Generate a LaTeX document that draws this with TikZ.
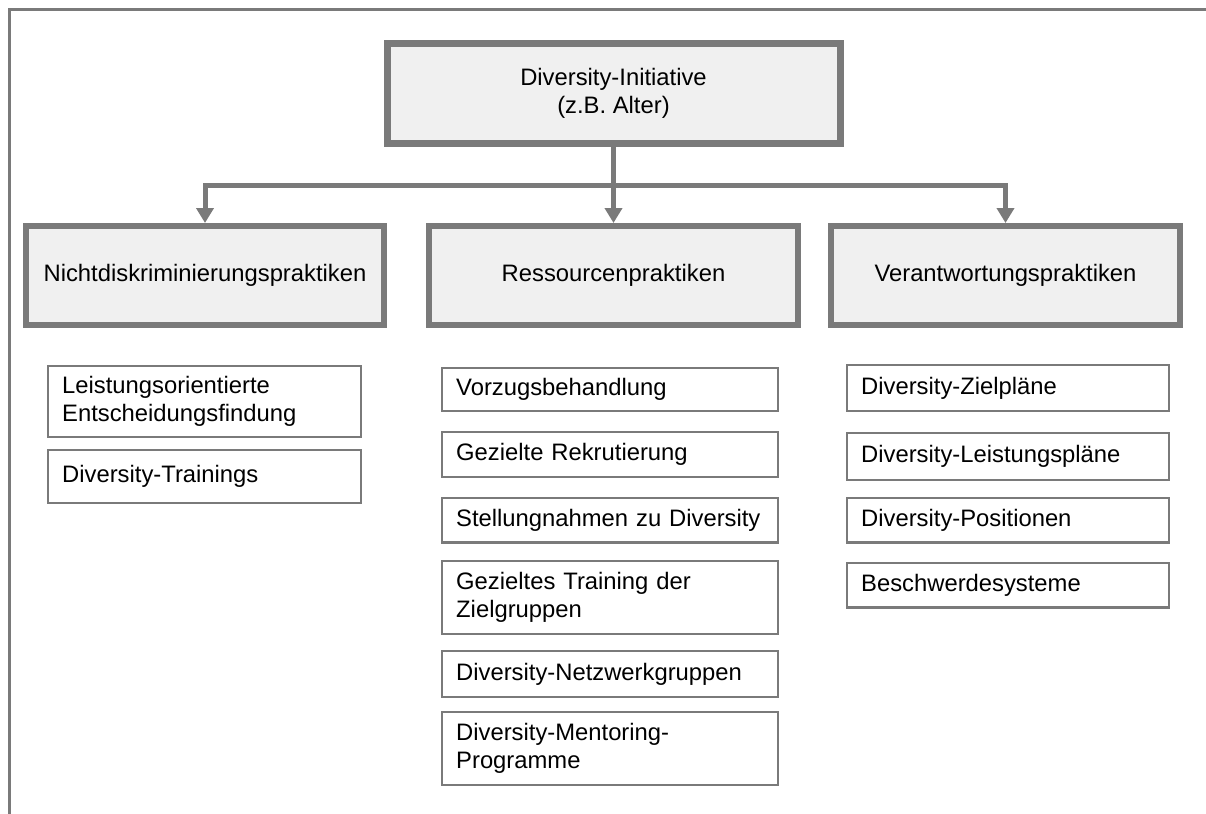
\documentclass[tikz,border=0pt]{standalone}
\usepackage{fontspec}
\setmainfont{Liberation Sans}
\usetikzlibrary{arrows.meta}
\definecolor{rahmen}{RGB}{122,122,122}
\definecolor{fuell}{RGB}{240,240,240}

\begin{document}
\begin{tikzpicture}[>={Triangle[length=7.5pt,width=8.5pt]},x=0.5pt,y=-0.5pt,
		font=\fontsize{11.9}{14}\selectfont,
		haupt/.style={draw=rahmen,fill=fuell,line width=3pt,minimum height=49.5pt,align=center},
		praxis/.style={draw=rahmen,fill=white,line width=1.2pt,align=left,inner xsep=7pt,inner ysep=2pt,minimum height=22.3pt},
		links/.style={praxis,text width=142.3pt},
		mitte/.style={praxis,text width=153.8pt},
		rechts/.style={praxis,text width=146.8pt},
		pfeil/.style={->,draw=rahmen,line width=2.5pt}]
		\useasboundingbox (0,0) rectangle (1206,814);
		\draw[rahmen,line width=1.5pt] (1206,9) -- (9,9) -- (9,814);
		
		\node[haupt,line width=3.5pt,minimum width=226.5pt,minimum height=50pt] (init) at (613.5,93.5) {Diversity-Initiative\\(z.B. Alter)};
		\node[haupt,minimum width=179pt] (nd) at (205,275.5) {Nichtdiskriminierungspraktiken};
		\node[haupt,minimum width=184.5pt] (res) at (613.5,275.5) {Ressourcenpraktiken};
		\node[haupt,minimum width=174.5pt] (ver) at (1005.5,275.5) {Verantwortungspraktiken};
		
		\coordinate (gabel) at (613.5,185);
		\draw[pfeil] (init.south) -- (res.north);
		\draw[pfeil] (gabel) -| (nd.north);
		\draw[pfeil] (gabel) -| (ver.north);
		
		% Praktiken
		\node[links,minimum height=35.3pt] (l1) at (204.5,401.5) {Leistungsorientierte\\Entscheidungsfindung};
		\node[links,minimum height=26.3pt] (l2) at (204.5,476.5) {Diversity-Trainings};
		
		\node[mitte,minimum height=21.3pt] (m1) at (610,389.5) {Vorzugsbehandlung};
		\node[mitte] (m2) at (610,454.5) {Gezielte Rekrutierung};
		\node[mitte] (m3) at (610,520) {Stellungnahmen zu Diversity};
		\node[mitte,minimum height=36.3pt] (m4) at (610,597.5) {Gezieltes Training der\\Zielgruppen};
		\node[mitte,minimum height=22.8pt] (m5) at (610,674) {Diversity-Netzwerkgruppen};
		\node[mitte,minimum height=36.3pt] (m6) at (610,748.5) {Diversity-Mentoring-\\Programme};
		
		\node[rechts,minimum height=22.8pt] (r1) at (1008,388) {Diversity-Zielpläne};
		\node[rechts,minimum height=23.3pt] (r2) at (1008,456.5) {Diversity-Leistungspläne};
		\node[rechts] (r3) at (1008,520) {Diversity-Positionen};
		\node[rechts] (r4) at (1008,585) {Beschwerdesysteme};
	\end{tikzpicture}
\end{document}
